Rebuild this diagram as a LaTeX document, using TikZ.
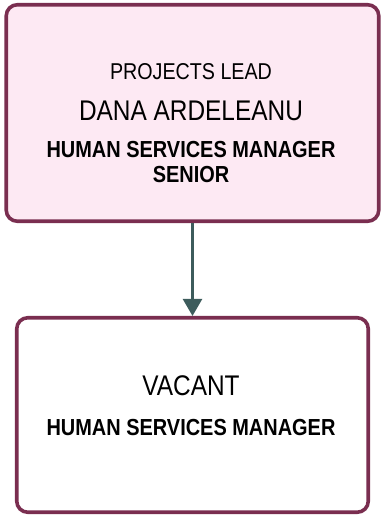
\documentclass[tikz,border=0pt]{standalone}
\usepackage{fontspec}
\setmainfont{Liberation Sans}[FakeStretch=0.86]
\usepackage{xcolor}
\usetikzlibrary{arrows.meta,positioning}
\definecolor{boxline}{HTML}{7A2E50}
\definecolor{boxfill}{HTML}{FDE9F3}
\definecolor{linkline}{HTML}{3D5C5C}

\begin{document}
\begin{tikzpicture}[x=1pt,y=-1pt,
	posbox/.style={draw=boxline,line width=3.6pt,rounded corners=11pt,inner sep=0pt},
	role/.style={anchor=base,inner sep=0pt,font=\fontsize{22.9}{26}\selectfont},
	holder/.style={anchor=base,inner sep=0pt,font=\fontsize{28.4}{32}\selectfont},
	title/.style={anchor=base,inner sep=0pt,align=center,font=\bfseries\fontsize{23.2}{26}\selectfont}]
		\useasboundingbox (0,0) rectangle (382,517);
		\node[posbox,fill=boxfill,minimum width=372.5pt,minimum height=216.5pt] (lead) at (192.5,113) {};
		\node[posbox,fill=white,minimum width=351.5pt,minimum height=194.5pt] (vacant) at (192.5,415) {};
		\node[role] (leadrole) at (191,79) {PROJECTS LEAD};
		\node[holder] (leadname) at (191,120) {DANA ARDELEANU};
		\node[title] (leadtitle) at (191,157) {HUMAN SERVICES MANAGER};
		\node[title] (leadtitle2) at (191,182) {SENIOR};
		\node[holder] (vacname) at (191,395) {VACANT};
		\node[title] (vactitle) at (191,435) {HUMAN SERVICES MANAGER};
		\draw[linkline,line width=2.6pt,-{Triangle[width=19pt,length=17pt]}] (lead.south) -- (vacant.north);
\end{tikzpicture}
\end{document}
